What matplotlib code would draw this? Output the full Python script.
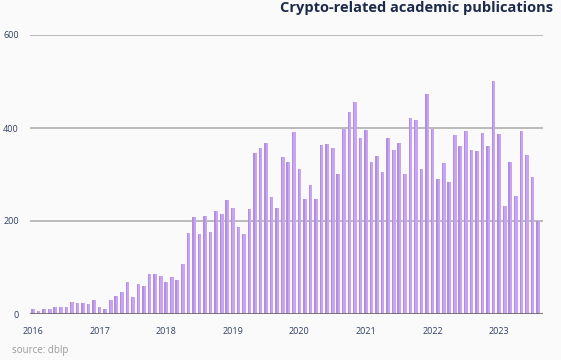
import matplotlib
matplotlib.use("Agg")
import matplotlib.pyplot as plt
import numpy as np

plt.rcParams['font.family'] = ['Open Sans', 'DejaVu Sans']

start_year = 2016
values = [
    11, 6, 11, 10, 16, 16, 14, 25, 23, 24, 21, 31,       # 2016
    16, 11, 30, 38, 47, 69, 37, 65, 60, 86, 86, 82,      # 2017
    68, 79, 74, 108, 175, 209, 171, 210, 177, 221, 216, 245,  # 2018
    228, 188, 171, 226, 346, 356, 368, 252, 228, 338, 327, 391,  # 2019
    312, 248, 278, 248, 364, 366, 357, 301, 398, 434, 456, 378,  # 2020
    396, 327, 339, 305, 379, 353, 368, 301, 421, 417, 312, 473,  # 2021
    398, 291, 324, 284, 384, 361, 394, 353, 351, 390, 361, 501,  # 2022
    387, 232, 327, 254, 393, 341, 295, 200,                      # 2023
]
year_labels = [str(y) for y in range(2016, 2024)]
y_ticks = [0, 200, 400, 600]
title = "Crypto-related academic publications"
source = "source: dblp"

fig = plt.figure(figsize=(5.61, 3.6), dpi=100)
fig.patch.set_facecolor('#fafafa')
ax = fig.add_axes([30/561, 1-314/360, (543-30)/561, (314-35)/360])
ax.set_facecolor('#fafafa')

x = np.arange(len(values))
bw = 0.66
ax.bar(x, values, width=bw, color='#caa4f4', zorder=3)
ax.bar(x - bw/2, values, width=bw*0.38, align='edge', color='#b18fdc', zorder=3)

ax.set_ylim(0, 600)
ax.set_xlim(-0.55, 91.9)
ax.set_yticks(y_ticks)
ax.set_yticklabels([str(v) for v in y_ticks])
ax.set_xticks(np.arange(len(year_labels)) * 12)
ax.set_xticklabels(year_labels)
ax.tick_params(axis='both', length=0, labelsize=6.5, labelcolor='#2f3f5f')
ax.tick_params(axis='y', pad=8)
ax.tick_params(axis='x', pad=9)
for yv in y_ticks[1:]:
    ax.axhline(yv, color='#a8a8a8', lw=1.1, zorder=1)
ax.axhline(0, color='#666666', lw=1.2, zorder=4)
for s in ax.spines.values():
    s.set_visible(False)

fig.text(553/561, 1-8/360, title, ha='right', va='center', fontsize=10.5,
         fontweight='bold', color='#1c2b4b')
fig.text(12/561, 1-350/360, source, ha='left', va='center', fontsize=7,
         color='#9a9a9a')

fig.savefig('out.png', dpi=100, facecolor=fig.get_facecolor())
